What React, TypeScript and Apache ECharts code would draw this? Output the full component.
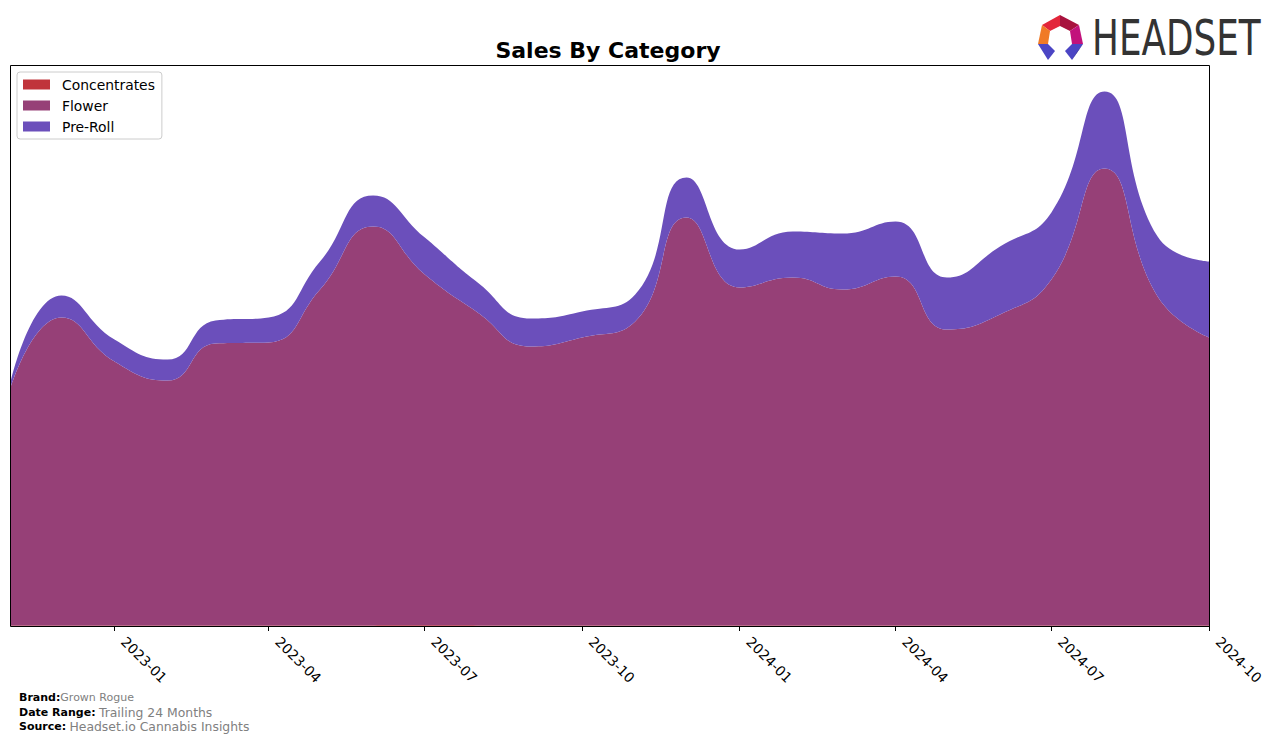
import React, { useEffect, useRef } from "react";
import * as echarts from "echarts";

const months = [
  "2022-11", "2022-12", "2023-01", "2023-02", "2023-03", "2023-04",
  "2023-05", "2023-06", "2023-07", "2023-08", "2023-09", "2023-10",
  "2023-11", "2023-12", "2024-01", "2024-02", "2024-03", "2024-04",
  "2024-05", "2024-06", "2024-07", "2024-08", "2024-09", "2024-10",
];
const concentrates = [0.6, 0.6, 0.5, 0.5, 0.6, 0.6, 0.5, 0.6, 0.7, 0.6, 0.5, 0.5, 0.6, 0.6, 0.5, 0.5, 0.5, 0.6, 0.5, 0.5, 0.5, 0.6, 0.5, 0.5];
const flower = [236, 308, 264, 245, 282, 283, 336, 399, 351, 313, 279, 288, 304, 408, 338, 348, 336, 349, 296, 311, 346, 457, 329, 288];
const preRoll = [5, 22, 22, 21, 23, 25, 28, 31, 37, 30, 28, 26, 27, 40, 38, 46, 56, 55, 52, 68, 67, 77, 60, 76];
const tickMonths = ["2023-01", "2023-04", "2023-07", "2023-10", "2024-01", "2024-04", "2024-07", "2024-10"];
const seriesNames = ["Concentrates", "Flower", "Pre-Roll"];
const seriesColors = ["#c0343b", "#964077", "#6b4fbb"];

const toTime = (m: string) => {
  const [y, mo] = m.split("-").map(Number);
  return Date.UTC(y, mo - 1, 1);
};
const pad = (n: number) => (n < 10 ? "0" + n : "" + n);

export default function App() {
  const ref = useRef<HTMLDivElement>(null);
  useEffect(() => {
    document.body.style.margin = "0";
    const chart = echarts.init(ref.current!, null, { renderer: "svg" });
    const seriesData = [concentrates, flower, preRoll];
    const tickVals = tickMonths.map(toTime);
    chart.setOption({
      animation: false,
      grid: { left: 10, top: 65, right: 67, bottom: 116, containLabel: false },
      legend: {
        data: seriesNames,
        orient: "vertical",
        left: 17,
        top: 72,
        icon: "rect",
        itemWidth: 27,
        itemHeight: 10,
        itemGap: 7,
        padding: [5.5, 7, 5.5, 6],
        backgroundColor: "#ffffff",
        borderColor: "#cccccc",
        borderWidth: 1,
        borderRadius: 3,
        formatter: (n: string) => "{p|}" + n,
        textStyle: {
          fontFamily: "DejaVu Sans",
          fontSize: 13.9,
          color: "#000",
          rich: { p: { width: 7 } },
        },
      },
      xAxis: {
        type: "value",
        min: toTime(months[0]),
        max: toTime(months[months.length - 1]),
        axisLine: { show: false },
        splitLine: { show: false },
        axisTick: {
          show: true,
          length: 5,
          lineStyle: { color: "#000", width: 1 },
          customValues: tickVals,
        },
        axisLabel: {
          customValues: tickVals,
          rotate: -45,
          margin: 14,
          verticalAlign: "bottom",
          padding: [0, 0, 0, 6],
          fontFamily: "DejaVu Sans",
          fontSize: 13.9,
          color: "#000",
          hideOverlap: false,
          showMinLabel: true,
          showMaxLabel: true,
          formatter: (v: number) => {
            const d = new Date(v);
            return d.getUTCFullYear() + "-" + pad(d.getUTCMonth() + 1);
          },
        },
      },
      yAxis: {
        type: "value",
        min: 0,
        max: 561,
        show: false,
        splitLine: { show: false },
      },
      series: seriesNames.map((name, i) => ({
        name,
        type: "line",
        stack: "total",
        smooth: 0.5,
        symbol: "none",
        showSymbol: false,
        dimensions: [
          { name: "v", type: "float" },
          { name: "t", type: "time" },
        ],
        encode: { x: "t", y: "v" },
        lineStyle: { width: 0 },
        itemStyle: { color: seriesColors[i] },
        areaStyle: { color: seriesColors[i], opacity: 1 },
        data: months.map((m, j) => [seriesData[i][j], toTime(m)]),
      })),
      graphic: [
        {
          type: "rect",
          z: 100,
          shape: { x: 10.5, y: 65.5, width: 1199, height: 561 },
          style: { fill: "none", stroke: "#000", lineWidth: 1 },
          silent: true,
        },
        {
          type: "text",
          x: 608,
          y: 50,
          style: {
            text: "Sales By Category",
            font: "bold 22px 'DejaVu Sans'",
            fill: "#000",
            textAlign: "center",
            textVerticalAlign: "middle",
          },
        },
        { type: "polygon", shape: { points: [[1042, 25], [1060, 15], [1060, 26], [1050, 31]] }, style: { fill: "#e3263a" } },
        { type: "polygon", shape: { points: [[1060, 15], [1079, 25], [1070, 31], [1060, 26]] }, style: { fill: "#a8123e" } },
        { type: "polygon", shape: { points: [[1079, 25], [1083, 44], [1072, 44], [1070, 31]] }, style: { fill: "#c2127c" } },
        { type: "polygon", shape: { points: [[1042, 25], [1038, 44], [1048, 44], [1050, 31]] }, style: { fill: "#f07a26" } },
        { type: "polygon", shape: { points: [[1038, 44], [1048, 44], [1055, 51], [1048, 60]] }, style: { fill: "#4b45c4" } },
        { type: "polygon", shape: { points: [[1038, 44], [1048, 60], [1043, 52]] }, style: { fill: "#2b2a7a" } },
        { type: "polygon", shape: { points: [[1072, 44], [1083, 44], [1072, 60], [1065, 51]] }, style: { fill: "#4b45c4" } },
        { type: "polygon", shape: { points: [[1083, 44], [1072, 60], [1077, 52]] }, style: { fill: "#2b2a7a" } },
        {
          type: "text",
          x: 1092,
          y: 38,
          scaleX: 0.73,
          style: {
            text: "HEADSET",
            font: "49px 'DejaVu Sans'",
            fill: "#333333",
            textAlign: "left",
            textVerticalAlign: "middle",
          },
        },
        {
          type: "text",
          x: 19,
          y: 697,
          style: {
            text: "{b|Brand:}{g1|Grown Rogue}",
            textVerticalAlign: "middle",
            rich: {
              b: { font: "bold 11px 'DejaVu Sans'", fill: "#000" },
              g1: { font: "11px 'DejaVu Sans'", fill: "#808080" },
            },
          },
        },
        {
          type: "text",
          x: 19,
          y: 712,
          style: {
            text: "{b|Date Range:} {g|Trailing 24 Months}",
            textVerticalAlign: "middle",
            rich: {
              b: { font: "bold 11px 'DejaVu Sans'", fill: "#000" },
              g: { font: "12.4px 'DejaVu Sans'", fill: "#808080" },
            },
          },
        },
        {
          type: "text",
          x: 19,
          y: 726,
          style: {
            text: "{b|Source:} {g|Headset.io Cannabis Insights}",
            textVerticalAlign: "middle",
            rich: {
              b: { font: "bold 11px 'DejaVu Sans'", fill: "#000" },
              g: { font: "12.4px 'DejaVu Sans'", fill: "#808080" },
            },
          },
        },
      ],
    });
    return () => chart.dispose();
  }, []);
  return <div ref={ref} style={{ width: 1276, height: 742 }} />;
}
